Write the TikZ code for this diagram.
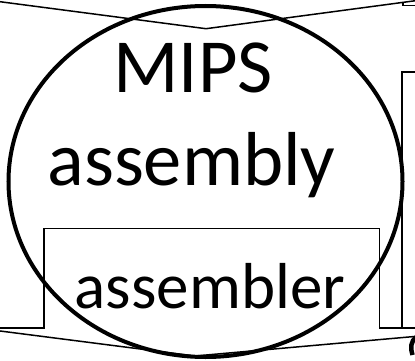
\documentclass[tikz,border=0pt]{standalone}
\usepackage{fontspec}
\setmainfont{Carlito}
\usepackage[]{tikz}
\usetikzlibrary{positioning}
\tikzset{thin line/.style={line width=1.5pt,black}}
\tikzset{bubble/.style={line width=4pt,black}}
\tikzset{big label/.style={font=\fontsize{76.5}{92}\selectfont,inner sep=0pt,anchor=base}}

\begin{document}
\begin{tikzpicture}[x=1pt,y=-1pt]
            \useasboundingbox (0,0) rectangle (415,361);
            \clip (0,0) rectangle (415,361);
            \draw[thin line] (-10,0.4)--(206,28.7)--(420,0.1);
            \draw[thin line] (403,3.5)--(403,5.7)--(420,5.7);
            \draw[thin line] (-10,327.8)--(44,327.8)--(44,228.5)--(379.5,228.5)--(379.5,327.8)--(420,327.8);
            \draw[thin line] (420,72)--(402,72)--(402,327.8);
            \draw[thin line] (-10,329.7)--(195,356)--(420,336);
            \draw[bubble] (205.5,181.5) ellipse [x radius=197,y radius=175.5];
            \draw[bubble,line width=4.5pt] (416,337) .. controls (411,341) and (410,348) .. (412.5,355);
            \node[big label] (mips) at (193,92.7) {MIPS};
            \node[big label] (asm) at (191.5,185) {assembly};
            \node[big label,font=\fontsize{65}{78}\selectfont] (assembler) at (210,308.3) {assembler};
        \end{tikzpicture}
\end{document}
